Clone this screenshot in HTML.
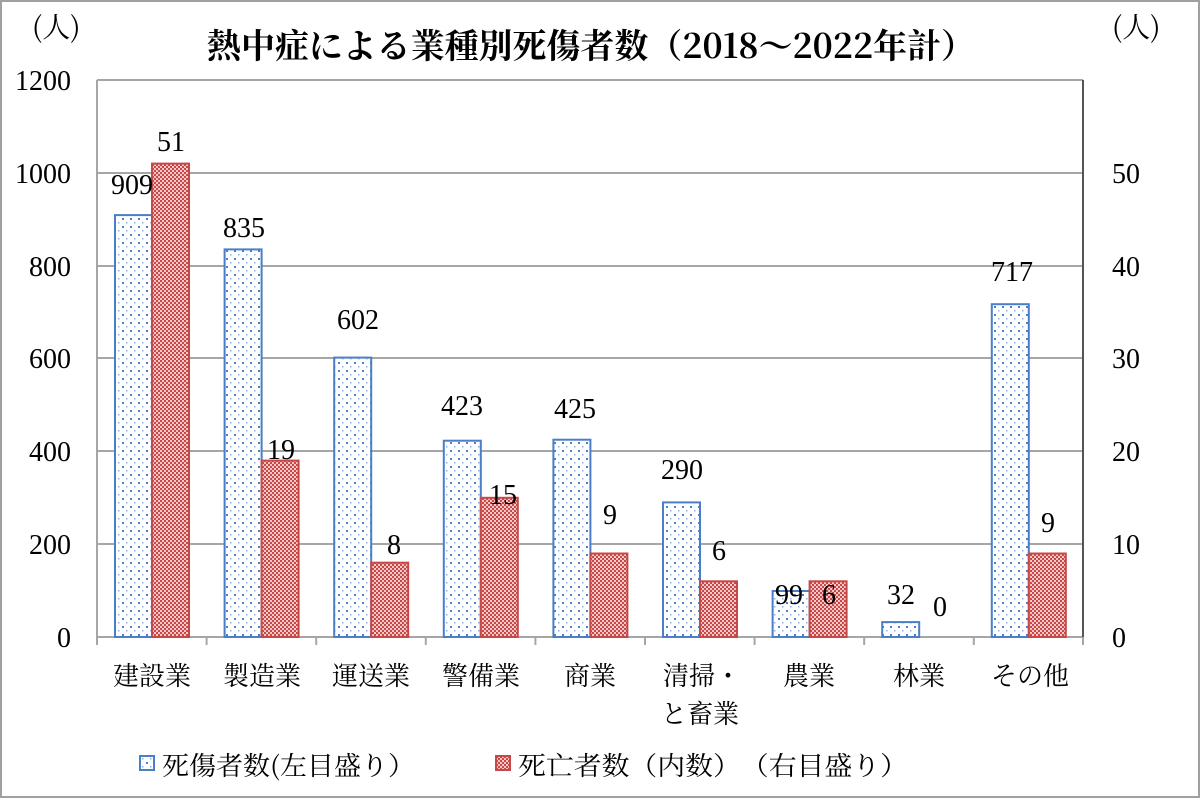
<!DOCTYPE html>
<html><head><meta charset="utf-8"><style>body{margin:0;background:#fff}svg{display:block}</style></head><body>
<svg width="1200" height="798" viewBox="0 0 1200 798" xmlns="http://www.w3.org/2000/svg">
<defs>
<pattern id="dots" width="8" height="8" patternUnits="userSpaceOnUse"><rect width="8" height="8" fill="#fff"/><rect x="2" y="2" width="2" height="2" fill="#4a7ec8"/><rect x="6" y="6" width="1.5" height="1.5" fill="#8fb0e0"/></pattern>
<pattern id="chk" width="4" height="4" patternUnits="userSpaceOnUse"><rect width="4" height="4" fill="#f3c8c8"/><rect width="2" height="2" fill="#c84848"/><rect x="2" y="2" width="2" height="2" fill="#c84848"/></pattern>
</defs>
<rect x="1" y="1" width="1198" height="796" fill="#fff" stroke="#a0a0a0" stroke-width="2"/>
<g stroke="#a6a6a6" stroke-width="2">
<line x1="97" y1="80" x2="1083" y2="80"/><line x1="97" y1="173" x2="1083" y2="173"/><line x1="97" y1="266" x2="1083" y2="266"/><line x1="97" y1="358" x2="1083" y2="358"/><line x1="97" y1="451" x2="1083" y2="451"/><line x1="97" y1="544" x2="1083" y2="544"/><line x1="97" y1="637" x2="1083" y2="637"/>
<line x1="97" y1="80" x2="97" y2="637"/>
<line x1="97" y1="637" x2="97" y2="645"/><line x1="206.6" y1="637" x2="206.6" y2="645"/><line x1="316.2" y1="637" x2="316.2" y2="645"/><line x1="425.8" y1="637" x2="425.8" y2="645"/><line x1="535.4" y1="637" x2="535.4" y2="645"/><line x1="645" y1="637" x2="645" y2="645"/><line x1="754.6" y1="637" x2="754.6" y2="645"/><line x1="864.2" y1="637" x2="864.2" y2="645"/><line x1="973.8" y1="637" x2="973.8" y2="645"/><line x1="1083" y1="637" x2="1083" y2="645"/>
</g>
<line x1="1083" y1="80" x2="1083" y2="637" stroke="#555" stroke-width="2"/>
<g fill="url(#dots)" stroke="#4a7ec8" stroke-width="2">
<rect x="115" y="215.1" width="37" height="421.9"/><rect x="224.6" y="249.4" width="37" height="387.6"/><rect x="334.2" y="357.6" width="37" height="279.4"/><rect x="443.8" y="440.7" width="37" height="196.3"/><rect x="553.4" y="439.7" width="37" height="197.3"/><rect x="663" y="502.4" width="37" height="134.6"/><rect x="772.6" y="591" width="37" height="46"/><rect x="882.2" y="622.1" width="37" height="14.9"/><rect x="991.8" y="304.2" width="37" height="332.8"/>
</g>
<g fill="url(#chk)" stroke="#c84848" stroke-width="2">
<rect x="152" y="163.6" width="37" height="473.4"/><rect x="261.6" y="460.6" width="37" height="176.4"/><rect x="371.2" y="562.7" width="37" height="74.3"/><rect x="480.8" y="497.8" width="37" height="139.2"/><rect x="590.4" y="553.5" width="37" height="83.5"/><rect x="700" y="581.3" width="37" height="55.7"/><rect x="809.6" y="581.3" width="37" height="55.7"/><rect x="1028.8" y="553.5" width="37" height="83.5"/>
</g>
<g font-family="Liberation Serif, serif" font-size="28" fill="#000" text-anchor="middle">
<text x="132" y="194">909</text><text x="244" y="237">835</text><text x="358" y="329">602</text><text x="462" y="415">423</text><text x="575" y="418">425</text><text x="682" y="479">290</text><text x="789" y="604">99</text><text x="901" y="604">32</text><text x="1012" y="281">717</text>
<text x="171" y="151">51</text><text x="281" y="459">19</text><text x="394" y="554">8</text><text x="503" y="504">15</text><text x="610" y="524">9</text><text x="719" y="560">6</text><text x="829" y="604">6</text><text x="940" y="616">0</text><text x="1048" y="532">9</text>
</g>
<g font-family="Liberation Serif, serif" font-size="28" text-anchor="end">
<text x="71" y="90">1200</text><text x="71" y="183">1000</text><text x="71" y="276">800</text><text x="71" y="368">600</text><text x="71" y="461">400</text><text x="71" y="554">200</text><text x="71" y="647">0</text>
</g>
<g font-family="Liberation Serif, serif" font-size="28" text-anchor="start">
<text x="1112" y="183">50</text><text x="1112" y="276">40</text><text x="1112" y="368">30</text><text x="1112" y="461">20</text><text x="1112" y="554">10</text><text x="1112" y="647">0</text>
</g>
<g font-family="Liberation Serif, 'Noto Serif CJK SC', serif" font-size="26" text-anchor="middle">
<text x="152" y="685">建設業</text><text x="262" y="685">製造業</text><text x="371" y="685">運送業</text><text x="481" y="685">警備業</text><text x="590" y="685">商業</text><text x="702" y="685">清掃・</text><text x="700" y="723">と畜業</text><text x="809" y="685">農業</text><text x="919" y="685">林業</text><text x="1030" y="685">その他</text>
</g>
<text x="32" y="37" font-family="'Noto Serif CJK SC', serif" font-size="28">(人)</text>
<text x="1112" y="37" font-family="'Noto Serif CJK SC', serif" font-size="28">(人)</text>
<text x="207" y="58" textLength="768" lengthAdjust="spacingAndGlyphs" font-family="'Noto Serif CJK SC', serif" font-weight="bold" font-size="34">熱中症による業種別死傷者数（2018～2022年計）</text>
<rect x="140" y="756" width="14" height="14" fill="url(#dots)" stroke="#4a7ec8" stroke-width="2"/>
<text x="162" y="775" textLength="253" lengthAdjust="spacingAndGlyphs" font-family="'Noto Serif CJK SC', serif" font-size="26">死傷者数(左目盛り）</text>
<rect x="496" y="756" width="14" height="14" fill="url(#chk)" stroke="#c84848" stroke-width="2"/>
<text x="518" y="775" textLength="390" lengthAdjust="spacingAndGlyphs" font-family="'Noto Serif CJK SC', serif" font-size="26">死亡者数（内数）　（右目盛り）</text>
</svg>
</body></html>
